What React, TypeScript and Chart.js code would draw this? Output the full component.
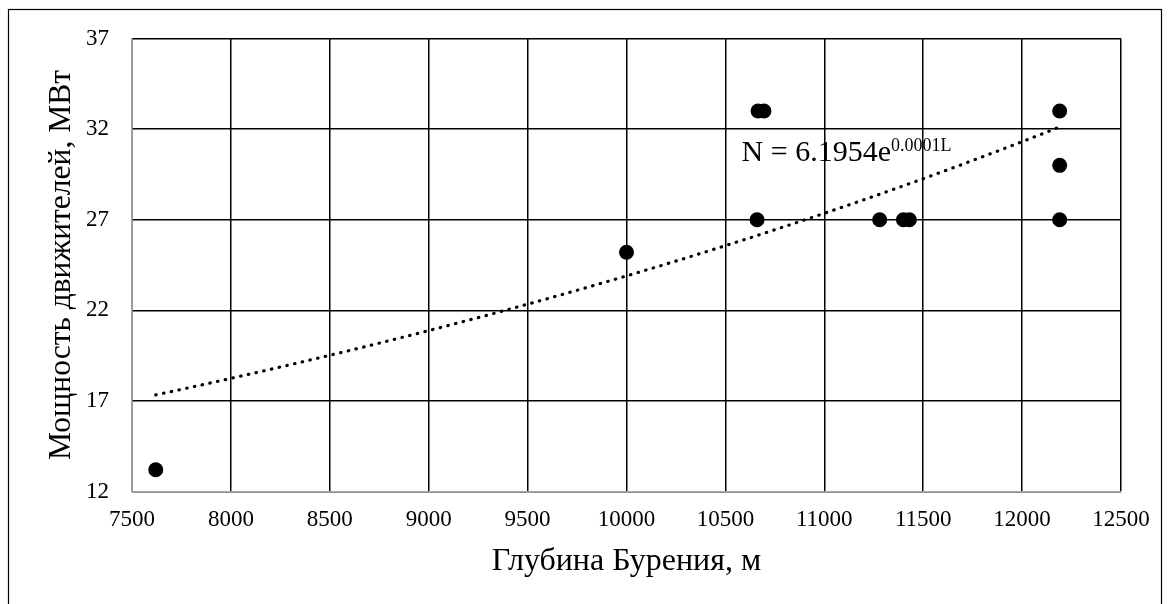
import React, { useEffect, useRef } from "react";
import { Chart, registerables } from "chart.js";

Chart.register(...registerables);

// ---- data ----
const DEPTH_M = [7620, 10000, 10660, 10665, 10695, 11280, 11400, 11430, 12190, 12190, 12190];
const POWER_MW = [13.2, 25.2, 27, 33, 33, 27, 27, 27, 33, 30, 27];
const X_TICKS = [7500, 8000, 8500, 9000, 9500, 10000, 10500, 11000, 11500, 12000, 12500];
const Y_TICKS = [12, 17, 22, 27, 32, 37];
const X_TITLE = "Глубина Бурения, м";
const Y_TITLE = "Мощность движителей, МВт";
// exponential trendline N = A * e^(B * L) (label shows B rounded to 0.0001)
const TREND_A = 6.1954;
const TREND_B = 0.000135;
const EQ_MAIN = "N = 6.1954e";
const EQ_SUP = "0.0001L";
const EQ_ANCHOR_X = 10582;
const EQ_ANCHOR_Y = 30.26;

const FONT = "'Liberation Serif', 'Times New Roman', serif";

const framePlugin = {
  id: "frame",
  beforeDraw(chart: any) {
    const ctx = chart.ctx;
    ctx.save();
    ctx.fillStyle = "#ffffff";
    ctx.fillRect(0, 0, chart.width, chart.height);
    ctx.strokeStyle = "#000000";
    ctx.lineWidth = 1.2;
    ctx.strokeRect(8.5, 9.5, 1153, 700);
    ctx.restore();
  },
};

const equationPlugin = {
  id: "equation",
  afterDatasetsDraw(chart: any) {
    const { ctx, scales } = chart;
    const px = scales.x.getPixelForValue(EQ_ANCHOR_X);
    const py = scales.y.getPixelForValue(EQ_ANCHOR_Y);
    ctx.save();
    ctx.fillStyle = "#000000";
    ctx.textAlign = "left";
    ctx.textBaseline = "alphabetic";
    ctx.font = `30px ${FONT}`;
    ctx.fillText(EQ_MAIN, px, py);
    const w = ctx.measureText(EQ_MAIN).width;
    ctx.font = `18px ${FONT}`;
    ctx.fillText(EQ_SUP, px + w, py - 10);
    ctx.restore();
  },
};

export default function App() {
  const ref = useRef<HTMLCanvasElement | null>(null);

  useEffect(() => {
    if (!ref.current) return;
    const points = DEPTH_M.map((x, i) => ({ x, y: POWER_MW[i] }));
    const lo = Math.min(...DEPTH_M);
    const hi = Math.max(...DEPTH_M);
    const trend: { x: number; y: number }[] = [];
    for (let x = lo; x < hi; x += 20) trend.push({ x, y: TREND_A * Math.exp(TREND_B * x) });
    trend.push({ x: hi, y: TREND_A * Math.exp(TREND_B * hi) });

    const chart = new Chart(ref.current, {
      type: "scatter",
      data: {
        datasets: [
          {
            label: "trend",
            data: trend,
            showLine: true,
            borderColor: "#000000",
            borderWidth: 3.2,
            borderDash: [0.5, 7.4],
            borderCapStyle: "round",
            pointRadius: 0,
            pointHoverRadius: 0,
            fill: false,
            tension: 0,
          } as any,
          {
            label: "data",
            data: points,
            backgroundColor: "#000000",
            borderColor: "#000000",
            borderWidth: 0,
            pointRadius: 7.5,
            pointStyle: "circle",
          },
        ],
      },
      options: {
        responsive: false,
        animation: false,
        layout: { padding: { left: 8, top: 38.5, right: 49, bottom: 0 } },
        plugins: { legend: { display: false }, tooltip: { enabled: false } },
        scales: {
          x: {
            type: "linear",
            min: 7500,
            max: 12500,
            afterBuildTicks: (s: any) => {
              s.ticks = X_TICKS.map((v) => ({ value: v }));
            },
            afterFit: (s: any) => {
              s.height = 112.5;
            },
            grid: { color: "#000000", lineWidth: 1.5, drawTicks: false },
            border: { color: "#a6a6a6", width: 1.5 },
            ticks: {
              color: "#000000",
              font: { family: FONT, size: 23 },
              padding: 15,
              maxRotation: 0,
              autoSkip: false,
              callback: (v: any) => String(v),
            },
            title: {
              display: true,
              text: X_TITLE,
              color: "#000000",
              font: { family: FONT, size: 32 },
              padding: { top: 0, bottom: 22.8 },
            },
          },
          y: {
            type: "linear",
            min: 12,
            max: 37,
            afterBuildTicks: (s: any) => {
              s.ticks = Y_TICKS.map((v) => ({ value: v }));
            },
            afterFit: (s: any) => {
              s.width = 124;
            },
            grid: { color: "#000000", lineWidth: 1.5, drawTicks: false },
            border: { color: "#a6a6a6", width: 1.5 },
            ticks: {
              color: "#000000",
              font: { family: FONT, size: 23 },
              padding: 23,
              autoSkip: false,
              callback: (v: any) => String(v),
            },
            title: {
              display: true,
              text: Y_TITLE,
              color: "#000000",
              font: { family: FONT, size: 31.5 },
              padding: { top: 35, bottom: 0 },
            },
          },
        },
      },
      plugins: [framePlugin, equationPlugin],
    });
    return () => chart.destroy();
  }, []);

  return (
    <div style={{ position: "absolute", left: 0, top: 0, width: 1170, height: 604 }}>
      <canvas ref={ref} width={1170} height={604} style={{ display: "block" }} />
    </div>
  );
}
